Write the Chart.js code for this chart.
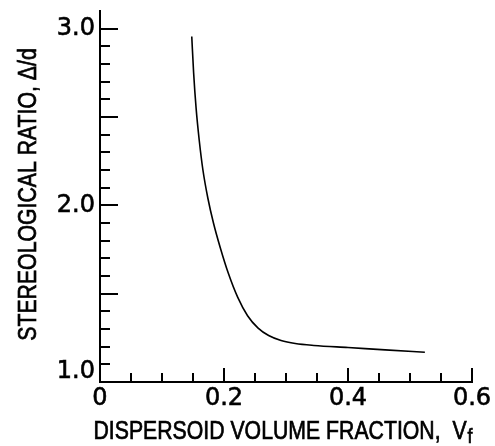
<!DOCTYPE html>
<html>
<head>
<meta charset="utf-8">
<script src="https://cdn.jsdelivr.net/npm/chart.js@4/dist/chart.umd.min.js"></script>
<style>
  html, body { margin: 0; padding: 0; background: #fff; }
  #wrap { width: 495px; height: 446px; }
</style>
</head>
<body>
<div id="wrap"><canvas id="c" width="495" height="446"></canvas></div>
<script>
// Data
const volumeFraction = [0.148, 0.151, 0.155, 0.160, 0.166, 0.174, 0.183, 0.194, 0.207, 0.222, 0.238, 0.255, 0.272, 0.292, 0.315, 0.345, 0.400, 0.460, 0.524];
const stereoRatio    = [2.956, 2.750, 2.550, 2.370, 2.200, 2.040, 1.900, 1.760, 1.615, 1.480, 1.375, 1.305, 1.263, 1.235, 1.218, 1.207, 1.195, 1.182, 1.168];
const xTickLabels = ['0', '0.2', '0.4', '0.6'];
const yTickLabels = ['1.0', '2.0', '3.0'];
const xTitle = 'DISPERSOID VOLUME FRACTION,  V';
const xTitleSub = 'f';
const yTitle = 'STEREOLOGICAL RATIO, \u0394/d';

const points = volumeFraction.map((v, i) => ({ x: v, y: stereoRatio[i] }));

const tickFont = { family: 'DejaVu Sans', size: 24 };
const yTickFont = { family: 'DejaVu Sans', size: 24, lineHeight: '20px' };
const titleFamily = '"Liberation Sans"';
const squeeze = 0.85;

const axisDecor = {
  id: 'axisDecor',
  afterDraw(chart) {
    const ctx = chart.ctx;
    const xs = chart.scales.x, ys = chart.scales.y;
    const area = chart.chartArea;
    ctx.save();
    ctx.strokeStyle = '#000';
    ctx.lineWidth = 2;
    ctx.lineCap = 'butt';
    // inward tick marks on the x axis
    xs.ticks.forEach(t => {
      const v = Math.round(t.value * 100);
      if (v === 0) return;
      const major = v % 20 === 0;
      const px = Math.round(xs.getPixelForValue(t.value));
      const len = major ? 14 : 9;
      ctx.beginPath();
      ctx.moveTo(px, area.bottom);
      ctx.lineTo(px, area.bottom - len);
      ctx.stroke();
    });
    // inward tick marks on the y axis
    ys.ticks.forEach(t => {
      const v = Math.round(t.value * 10);
      if (v <= 10 || v > 30) return;
      const major = v % 5 === 0;
      const py = Math.round(ys.getPixelForValue(t.value));
      const len = major ? 18 : 10;
      ctx.beginPath();
      ctx.moveTo(area.left, py);
      ctx.lineTo(area.left + len, py);
      ctx.stroke();
    });

    ctx.fillStyle = '#000';
    ctx.strokeStyle = '#000';
    ctx.lineWidth = 0.7;
    ctx.textBaseline = 'alphabetic';

    // x-axis title with subscript f
    const mainFont = '25px ' + titleFamily;
    const subFont = '21px ' + titleFamily;
    ctx.font = mainFont;
    const mainW = ctx.measureText(xTitle).width * squeeze;
    ctx.font = subFont;
    const subW = ctx.measureText(xTitleSub).width * squeeze;
    const x0 = 283 - (mainW + 1 + subW) / 2;
    ctx.save();
    ctx.translate(x0, 439);
    ctx.scale(squeeze, 1);
    ctx.textAlign = 'left';
    ctx.font = mainFont;
    ctx.fillText(xTitle, 0, 0);
    ctx.strokeText(xTitle, 0, 0);
    ctx.font = subFont;
    ctx.fillText(xTitleSub, (mainW + 1) / squeeze, 4);
    ctx.strokeText(xTitleSub, (mainW + 1) / squeeze, 4);
    ctx.restore();

    // y-axis title, rotated
    ctx.save();
    ctx.translate(36, (area.top + area.bottom) / 2 - 2);
    ctx.rotate(-Math.PI / 2);
    ctx.scale(squeeze, 1);
    ctx.textAlign = 'center';
    ctx.font = mainFont;
    ctx.fillText(yTitle, 0, 0);
    ctx.strokeText(yTitle, 0, 0);
    ctx.restore();

    ctx.restore();
  }
};

new Chart(document.getElementById('c'), {
  type: 'line',
  data: {
    datasets: [{
      data: points,
      borderColor: '#000',
      borderWidth: 1.6,
      pointRadius: 0,
      fill: false,
      cubicInterpolationMode: 'monotone'
    }]
  },
  options: {
    responsive: false,
    animation: false,
    devicePixelRatio: 1,
    layout: { padding: { left: 0, right: 23, top: 11, bottom: 0 } },
    plugins: { legend: { display: false }, tooltip: { enabled: false } },
    scales: {
      x: {
        type: 'linear',
        min: 0, max: 0.6,
        afterFit(s) { s.height = 64; s.paddingLeft = 0; s.paddingRight = 0; },
        grid: { display: false, drawTicks: false },
        border: { display: true, color: '#000', width: 2 },
        ticks: {
          stepSize: 0.05,
          autoSkip: false,
          maxRotation: 0,
          padding: 2,
          color: '#000',
          textStrokeColor: '#000',
          textStrokeWidth: 0.6,
          font: tickFont,
          callback(v) {
            const k = Math.round(v * 100);
            return k % 20 === 0 ? xTickLabels[k / 20] : '';
          }
        },
        title: { display: false }
      },
      y: {
        type: 'linear',
        min: 1.0, max: 3.1,
        afterFit(s) { s.width = 100; s.paddingTop = 0; s.paddingBottom = 0; },
        grid: { display: false, drawTicks: false },
        border: { display: true, color: '#000', width: 2 },
        ticks: {
          stepSize: 0.1,
          autoSkip: false,
          padding: 5,
          color: '#000',
          textStrokeColor: '#000',
          textStrokeWidth: 0.6,
          font: yTickFont,
          callback(v) {
            const k = Math.round(v * 10);
            if (k === 10) return [yTickLabels[0], ''];
            return (k % 10 === 0 && k <= 30) ? yTickLabels[k / 10 - 1] : '';
          }
        },
        title: { display: false }
      }
    }
  },
  plugins: [axisDecor]
});
</script>
</body>
</html>
